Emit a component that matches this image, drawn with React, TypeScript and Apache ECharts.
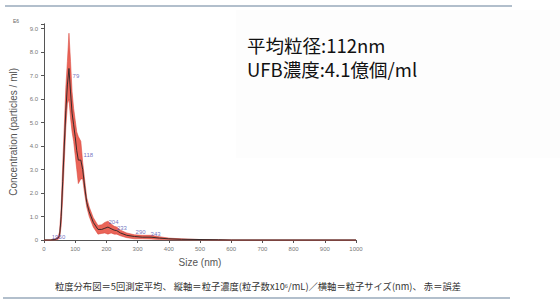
import React, { useEffect, useRef } from "react";
import * as echarts from "echarts";

const sizes = [0, 20, 35, 45, 50, 55, 60, 65, 70, 75, 80, 85, 90, 95, 100, 105, 110, 118, 124, 130, 137, 145, 158, 173, 185, 195, 205, 215, 225, 233, 245, 265, 290, 315, 343, 370, 400, 440, 500, 560, 600, 1000];
const meanValues = [0, 0, 0.02, 0.08, 0.2, 1.0, 2.5, 4.0, 5.5, 6.6, 7.3, 6.3, 5.4, 4.9, 4.4, 3.8, 3.4, 3.4, 3.0, 2.3, 1.6, 1.2, 0.75, 0.45, 0.45, 0.5, 0.55, 0.48, 0.42, 0.4, 0.3, 0.2, 0.15, 0.12, 0.12, 0.08, 0.05, 0.03, 0.02, 0.01, 0, 0];
const lowerValues = [0, 0, 0, 0.02, 0.1, 0.6, 1.8, 3.3, 4.8, 5.8, 6.0, 5.2, 4.6, 4.2, 3.6, 3.0, 2.4, 2.6, 2.6, 2.0, 1.4, 1.0, 0.55, 0.25, 0.28, 0.3, 0.25, 0.3, 0.25, 0.25, 0.18, 0.1, 0.05, 0.05, 0.04, 0.02, 0.01, 0, 0, 0, 0, 0];
const upperValues = [0, 0, 0.04, 0.14, 0.35, 1.4, 3.2, 4.8, 6.5, 7.6, 8.8, 7.6, 6.3, 5.6, 5.1, 4.6, 4.4, 4.2, 3.3, 2.6, 1.8, 1.4, 0.95, 0.62, 0.65, 0.75, 0.8, 0.68, 0.58, 0.55, 0.42, 0.3, 0.22, 0.2, 0.2, 0.14, 0.08, 0.05, 0.02, 0.01, 0, 0];

const peakNames = ["19", "50", "79", "118", "204", "233", "290", "343"];
const peakLabelX = [23, 45, 90, 125, 205, 232, 292, 340];
const peakLabelY = [0.13, 0.13, 7.0, 3.6, 0.78, 0.5, 0.34, 0.26];

const yTicks = [0, 1, 2, 3, 4, 5, 6, 7, 8, 9];

const infoLines = ["平均粒径:112nm", "UFB濃度:4.1億個/ml"];
const caption = "粒度分布図＝5回測定平均、 縦軸＝粒子濃度(粒子数x10⁶/mL)／横軸＝粒子サイズ(nm)、 赤＝誤差";

export default function App() {
  const ref = useRef<HTMLDivElement>(null);
  useEffect(() => {
    if (!ref.current) return;
    const chart = echarts.init(ref.current, null, { renderer: "svg" });
    const meanData = sizes.map((s, i) => [s, meanValues[i]]);
    const labelData = peakNames.map((n, i) => ({ value: [peakLabelX[i], peakLabelY[i]], name: n }));
    const font = "Liberation Sans, Arial, sans-serif";
    chart.setOption({
      animation: false,
      backgroundColor: "#ffffff",
      grid: { left: 44, right: 204, top: 23.8, bottom: 60, containLabel: false },
      xAxis: {
        type: "value",
        min: 0,
        max: 1000,
        interval: 100,
        name: "Size (nm)",
        nameLocation: "middle",
        nameGap: 17,
        nameTextStyle: { fontSize: 10, color: "#555", fontFamily: font },
        axisLine: { lineStyle: { color: "#555", width: 1 } },
        axisTick: { length: 3, lineStyle: { color: "#555" } },
        axisLabel: { fontSize: 6, color: "#777", margin: 6, fontFamily: font, formatter: (v: number) => String(v) },
        splitLine: { show: false },
      },
      yAxis: {
        type: "value",
        min: 0,
        max: 9.2,
        interval: 1,
        name: "Concentration (particles / ml)",
        nameLocation: "middle",
        nameGap: 24,
        nameTextStyle: { fontSize: 10, color: "#555", fontFamily: font },
        axisLine: { show: true, lineStyle: { color: "#555", width: 1 } },
        axisTick: { show: true, length: 3, lineStyle: { color: "#555" } },
        axisLabel: {
          fontSize: 6,
          color: "#777",
          margin: 6,
          fontFamily: font,
          formatter: (v: number) => (yTicks.indexOf(v) < 0 ? "" : v === 0 ? "0" : v.toFixed(1)),
        },
        splitLine: { show: false },
      },
      series: [
        {
          type: "custom",
          data: [[0, 0]],
          silent: true,
          renderItem: (params: any, api: any) => {
            const pts: number[][] = [];
            for (let i = 0; i < sizes.length; i++) pts.push(api.coord([sizes[i], upperValues[i]]));
            for (let i = sizes.length - 1; i >= 0; i--) pts.push(api.coord([sizes[i], lowerValues[i]]));
            return {
              type: "polygon",
              shape: { points: pts },
              style: { fill: "#e8574a", opacity: 0.92, stroke: "#d9453a", lineWidth: 0.6 },
            };
          },
        },
        {
          type: "line",
          data: meanData,
          symbol: "none",
          lineStyle: { color: "#3a2a2a", width: 1 },
          silent: true,
        },
        {
          type: "scatter",
          data: labelData,
          symbolSize: 1,
          itemStyle: { color: "transparent" },
          label: {
            show: true,
            position: "right",
            distance: 0,
            formatter: (p: any) => p.name,
            fontSize: 6,
            color: "#5050b0",
            fontFamily: font,
          },
          labelLayout: { hideOverlap: false },
          silent: true,
          z: 5,
        },
      ],
      graphic: [
        { type: "rect", shape: { x: 236, y: 10, width: 324, height: 148 }, style: { fill: "#fdfdfd" }, z: -10 },
        { type: "line", shape: { x1: 5, y1: 6, x2: 512, y2: 6 }, style: { stroke: "#b2bfcc", lineWidth: 2 } },
        { type: "line", shape: { x1: 3, y1: 298, x2: 510, y2: 298 }, style: { stroke: "#b2bfcc", lineWidth: 2 } },
        { type: "text", x: 13, y: 18, style: { text: "E6", fontSize: 5, fill: "#666", fontFamily: font } },
        {
          type: "text",
          x: 247,
          y: 56.5,
          style: {
            text: infoLines.join("\n"),
            fontSize: 18.5,
            lineHeight: 24,
            fill: "#111",
            fontFamily: "Noto Sans CJK JP",
            verticalAlign: "middle",
          },
        },
        {
          type: "text",
          x: 258,
          y: 286,
          style: { text: caption, fontSize: 9.3, fill: "#333", fontFamily: "Noto Sans CJK JP", align: "center", verticalAlign: "middle" },
        },
      ],
    });
    return () => chart.dispose();
  }, []);
  return <div ref={ref} style={{ position: "fixed", left: 0, top: 0, width: 560, height: 300 }} />;
}
